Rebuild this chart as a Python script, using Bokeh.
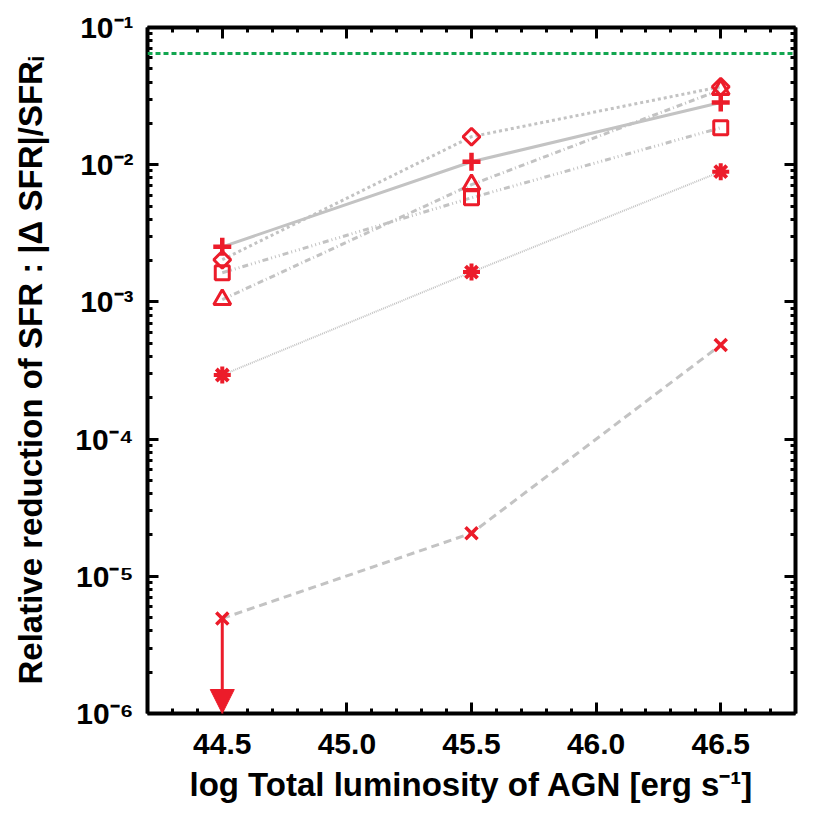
from bokeh.plotting import figure
from bokeh.models import (Range1d, FixedTicker, LogAxis, LinearAxis, CustomJSTickFormatter,
                          PrintfTickFormatter, Span, Arrow, NormalHead)
from bokeh.embed import file_html
from bokeh.resources import INLINE

# ---- data ----
log_lum = [44.5, 45.5, 46.5]
red_plus = [2.52e-3, 1.05e-2, 2.84e-2]
red_diamond = [2.03e-3, 1.60e-2, 3.70e-2]
red_square = [1.63e-3, 5.74e-3, 1.86e-2]
red_triangle = [1.04e-3, 7.15e-3, 3.52e-2]
red_asterisk = [2.93e-4, 1.65e-3, 8.9e-3]
red_x = [4.93e-6, 2.06e-5, 4.85e-4]
green_level = 0.0646

x_ticks = [44.5, 45.0, 45.5, 46.0, 46.5]
x_minor = [round(44.2 + 0.1 * i, 1) for i in range(27)]
y_ticks = [1e-6, 1e-5, 1e-4, 1e-3, 1e-2, 1e-1]
y_tick_labels = ["10\u207b\u2076", "10\u207b\u2075", "10\u207b\u2074",
                 "10\u207b\u00b3", "10\u207b\u00b2", "10\u207b\u00b9"]
y_minor = [k * 10.0 ** e for e in range(-6, -1) for k in range(2, 10)]

RED = "#ec1c2a"
GRAY = "#c3c3c3"
GREEN = "#12a650"
FONT = "Liberation Sans"

p = figure(width=822, height=822, frame_width=648, frame_height=686,
           y_axis_type="log", x_range=Range1d(44.2, 46.8), y_range=Range1d(1e-6, 1e-1),
           output_backend="svg", toolbar_location=None,
           min_border_left=147, min_border_top=27, min_border_right=27, min_border_bottom=109)
p.xgrid.visible = False
p.ygrid.visible = False
p.outline_line_color = None
p.background_fill_color = "white"
p.border_fill_color = "white"

# extra axes (top / right)
p.add_layout(LinearAxis(), "above")
p.add_layout(LogAxis(), "right")

xfmt = PrintfTickFormatter(format="%.1f")
yfmt = CustomJSTickFormatter(args=dict(labels=y_tick_labels),
                             code="const e = Math.round(Math.log10(tick)); return labels[e + 6];")
blank = CustomJSTickFormatter(code="return '';")

for ax in p.xaxis:
    ax.ticker = FixedTicker(ticks=x_ticks, minor_ticks=x_minor)
for ax in p.yaxis:
    ax.ticker = FixedTicker(ticks=y_ticks, minor_ticks=y_minor)

for ax in list(p.xaxis) + list(p.yaxis):
    ax.axis_line_width = 4
    ax.axis_line_color = "black"
    ax.major_tick_in = 11
    ax.major_tick_out = 0
    ax.minor_tick_in = 5
    ax.minor_tick_out = 0
    ax.major_tick_line_width = 3
    ax.minor_tick_line_width = 3
    ax.major_tick_line_color = "black"
    ax.minor_tick_line_color = "black"
    ax.major_label_text_font = FONT
    ax.major_label_text_font_style = "bold"
    ax.major_label_text_font_size = "30px"
    ax.major_label_text_color = "black"
    ax.axis_label_text_font = FONT
    ax.axis_label_text_font_style = "bold"
    ax.axis_label_text_font_size = "33px"
    ax.axis_label_text_color = "black"

p.above[0].formatter = blank
p.above[0].major_label_standoff = 0
p.right[0].formatter = blank
p.right[0].major_label_standoff = 0

bx = p.below[0]
bx.formatter = xfmt
bx.major_label_standoff = 20
bx.axis_label = "log Total luminosity of AGN [erg s\u207b\u00b9]"
bx.axis_label_standoff = 9

ly = p.left[0]
ly.formatter = yfmt
ly.major_label_standoff = 14
ly.axis_label = "Relative reduction of SFR : |\u0394 SFR|/SFR\u1d62"
ly.axis_label_standoff = 23

# green reference level
p.add_layout(Span(location=green_level, dimension="width", line_color=GREEN,
                  line_width=3, line_dash="5 3"))

# gray connecting lines
p.line(log_lum, red_plus, line_color=GRAY, line_width=3)
p.line(log_lum, red_diamond, line_color=GRAY, line_width=3, line_dash="3 3")
p.line(log_lum, red_square, line_color=GRAY, line_width=3, line_dash="6 3 1 3 1 3 1 3")
p.line(log_lum, red_triangle, line_color=GRAY, line_width=3, line_dash="6 3 1 3")
p.line(log_lum, red_asterisk, line_color=GRAY, line_width=2, line_dash="1 1")
p.line(log_lum, red_x, line_color=GRAY, line_width=3, line_dash="8 5")

# upper-limit arrow
p.add_layout(Arrow(end=NormalHead(size=24, fill_color=RED, line_color=RED, line_width=1),
                   x_start=log_lum[0], y_start=red_x[0], x_end=log_lum[0], y_end=1e-6,
                   line_color=RED, line_width=3))

# red markers
p.scatter(log_lum, red_plus, marker="cross", size=18, line_color=RED, line_width=4.5)
p.scatter(log_lum, red_diamond, marker="square", angle=0.785398, size=12,
          line_color=RED, fill_color=None, line_width=3)
p.scatter(log_lum, red_square, marker="square", size=14, line_color=RED,
          fill_color=None, line_width=3)
p.scatter(log_lum, red_triangle, marker="triangle", size=17, line_color=RED,
          fill_color=None, line_width=3)
p.scatter(log_lum, red_asterisk, marker="asterisk", size=17, line_color=RED, line_width=4)
p.scatter(log_lum, red_x, marker="x", size=17, line_color=RED, line_width=3.5)

open("out.html", "w").write(file_html(p, INLINE))
